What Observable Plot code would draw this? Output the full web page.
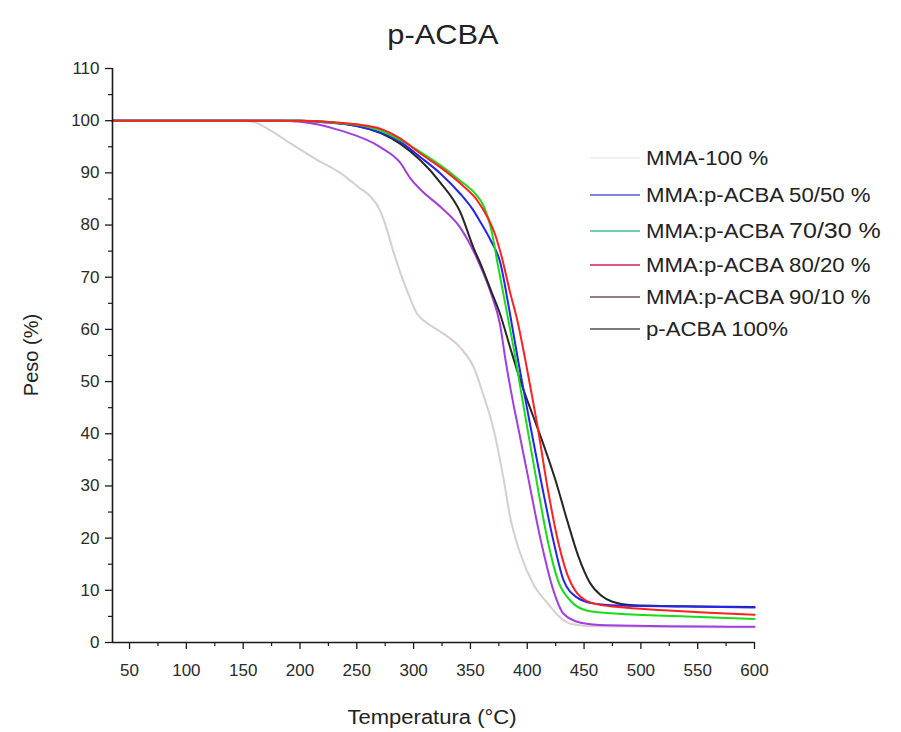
<!DOCTYPE html>
<html>
<head>
<meta charset="utf-8">
<script src="https://cdn.jsdelivr.net/npm/d3@7"></script>
<script src="https://cdn.jsdelivr.net/npm/@observablehq/plot@0.6"></script>
<style>
  body { margin: 0; background: #fff; font-family: "Liberation Sans", Arial, sans-serif; }
  #wrap { position: relative; width: 901px; height: 732px; overflow: hidden; background: #fff; }
  #chart { position: absolute; left: 0; top: 50px; }
  .txt { position: absolute; white-space: nowrap; color: #222; }
  #title { left: 443px; top: 35px; font-size: 28px; transform: translate(-50%, -50%) scaleX(1.1); }
  #xlabel { left: 432px; top: 717px; font-size: 20px; transform: translate(-50%, -50%) scaleX(1.1); }
  #ylabel { left: 31px; top: 355px; font-size: 20px; transform: translate(-50%, -50%) rotate(-90deg); }
  #legend { position: absolute; left: 0; top: 0; width: 901px; height: 732px; pointer-events: none; }
  .lg-row { position: absolute; left: 590px; height: 30px; width: 310px; }
  .lg-row svg { position: absolute; left: 0; top: 0; }
  .lg-label { position: absolute; left: 56px; top: 50%; font-size: 20px; color: #222;
              transform: translateY(-50%) scaleX(1.11); transform-origin: left center; white-space: nowrap; }
  .lg-big { font-size: 22.5px; }
</style>
</head>
<body>
<div id="wrap">
  <div id="chart"></div>
  <div id="title" class="txt">p-ACBA</div>
  <div id="xlabel" class="txt">Temperatura (°C)</div>
  <div id="ylabel" class="txt">Peso (%)</div>
  <div id="legend"></div>
</div>
<script>
// Axis extents and ticks
const xDomain = [35, 600];
const yDomain = [0, 110];
const xMajor = d3.range(50, 601, 50);
const xMinor = d3.range(75, 600, 50);
const yMajor = d3.range(0, 111, 10);
const yMinor = d3.range(5, 110, 10);

// Series names, line colours and legend swatch colours
const seriesNames = [
  "MMA-100 %",
  "MMA:p-ACBA 50/50 %",
  "MMA:p-ACBA 70/30 %",
  "MMA:p-ACBA 80/20 %",
  "MMA:p-ACBA 90/10 %",
  "p-ACBA 100%"
];
const lineColors = ["#d9ccd2", "#2424f0", "#18dc18", "#ff2020", "#a23ee0", "#262626"];
const swatchColors = ["#f0f0f0", "#7f86dc", "#6fd0b0", "#dc5a80", "#9c7a8c", "#7a7a7a"];

// Thermogravimetric curves: temperature (°C) and remaining mass (%)
const mma100Temp = [35,150,160,175,192,215,236,253,262,270,276,282,295,303,310,324,341,353,361,370,379,385,394,405,418,429,440,460,600];
const mma100Mass = [100,100,99.7,98,95.6,92.5,89.9,87,85.5,83,79.5,75,67,63,61.5,59.5,56.5,52.7,47.7,41.2,31.6,24,17,11.3,7.5,4.8,3.5,3.1,2.9];

const blend5050Temp = [35,200,220,250,271,288,306,324,341,352,359,368,376,384,392,398,403,413,423,432,444,458,480,540,600];
const blend5050Mass = [100,100,99.7,99,97.7,96,93,89.8,86,83,80.5,77,73,64,54,47,41.2,30,19.5,11.9,8.6,7.5,7.1,6.9,6.7];

const blend7030Temp = [35,200,230,250,271,288,306,324,341,355,362,368,374,381,390,395,400,409,418,427,438,453,480,540,600];
const blend7030Mass = [100,100,99.6,99.2,98.1,96.3,94,91.4,88.5,85.8,83.5,79.5,72.5,64.5,54,47.5,41.2,30,19.5,11.9,8,6.1,5.5,5.0,4.5];

const blend8020Temp = [35,200,230,250,270,288,306,324,341,355,365,372,378,385,391,398,404,409,418,427,435,444,452,460,480,520,560,600];
const blend8020Mass = [100,100,99.7,99.3,98.5,96.6,93.7,91,88,85,81.5,78,73.5,67,62,54.5,47.5,41.5,29.5,19.5,13.2,9.4,8,7.4,6.8,6.2,5.7,5.3];

const blend9010Temp = [35,180,200,236,271,288,297,306,324,341,356,368,376,381,388,392,400,412,423,432,447,470,600];
const blend9010Mass = [100,100,99.8,98.1,94.9,92,89,86.8,83.4,79.5,73.5,67,61,54,45.5,41.2,32.5,19.5,10,5.5,3.8,3.3,3.0];

const pacba100Temp = [35,200,250,271,288,306,324,341,353,360,368,376,385,395,405,415,425,435,445,455,465,475,490,550,600];
const pacba100Mass = [100,100,99,97.6,95.6,92.4,88,82.5,75.5,72,67.5,63,56.5,49.5,43.5,37.5,31,23.5,16.5,11.5,9,7.8,7.2,6.9,6.8];

const seriesTemps = [mma100Temp, blend5050Temp, blend7030Temp, blend8020Temp, blend9010Temp, pacba100Temp];
const seriesMasses = [mma100Mass, blend5050Mass, blend7030Mass, blend8020Mass, blend9010Mass, pacba100Mass];

// Long-format table per series
const tables = seriesNames.map((name, i) =>
  seriesTemps[i].map((t, j) => ({series: name, temp: t, mass: seriesMasses[i][j]}))
);

// Drawing order: faint MMA first, red on top
const drawOrder = [0, 4, 5, 1, 2, 3];

const lineMarks = drawOrder.map(i =>
  Plot.lineY(tables[i], {
    x: "temp", y: "mass",
    stroke: lineColors[i],
    strokeWidth: 2,
    curve: "monotone-x"
  })
);

const chart = Plot.plot({
  width: 901,
  height: 682,
  marginTop: 18,
  marginBottom: 90,
  marginLeft: 112,
  marginRight: 147,
  x: {domain: xDomain},
  y: {domain: yDomain},
  style: {fontFamily: "'Liberation Sans', Arial, sans-serif", fontSize: "17px", color: "#2a2a2a", background: "transparent"},
  marks: [
    ...lineMarks,
    Plot.ruleX([xDomain[0]], {stroke: "#1a1a1a", strokeWidth: 1.6}),
    Plot.ruleY([yDomain[0]], {stroke: "#1a1a1a", strokeWidth: 1.6}),
    Plot.axisY({ticks: yMajor, tickSize: 7, tickPadding: 6, label: null, stroke: "#1a1a1a", strokeWidth: 1.3, fontSize: 17}),
    Plot.axisY({ticks: yMinor, tickSize: 4, tickFormat: () => "", label: null, stroke: "#1a1a1a", strokeWidth: 1.2}),
    Plot.axisX({ticks: xMajor, tickSize: 7, tickPadding: 14, label: null, stroke: "#1a1a1a", strokeWidth: 1.3, fontSize: 17}),
    Plot.axisX({ticks: xMinor, tickSize: 4, tickFormat: () => "", label: null, stroke: "#1a1a1a", strokeWidth: 1.2})
  ]
});
document.getElementById("chart").appendChild(chart);

// Legend rows (swatch + label) placed inside the plot area
const legendRowsY = [158, 195, 231, 265, 297, 329];
const legend = document.getElementById("legend");
seriesNames.forEach((name, i) => {
  const row = document.createElement("div");
  row.className = "lg-row";
  row.style.top = (legendRowsY[i] - 15) + "px";
  const sw = d3.create("svg").attr("width", 52).attr("height", 30);
  sw.append("line").attr("x1", 0).attr("x2", 50).attr("y1", 15).attr("y2", 15)
    .attr("stroke", swatchColors[i]).attr("stroke-width", 2);
  row.appendChild(sw.node());
  const label = document.createElement("div");
  label.className = "lg-label";
  const m = name.match(/^(MMA:p-ACBA )(70\/30 %)$/);
  if (m) {
    label.append(m[1]);
    const big = document.createElement("span");
    big.className = "lg-big";
    big.textContent = m[2];
    label.appendChild(big);
  } else {
    label.textContent = name;
  }
  row.appendChild(label);
  legend.appendChild(row);
});
</script>
</body>
</html>
